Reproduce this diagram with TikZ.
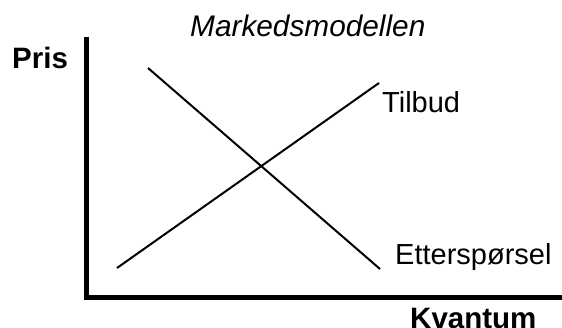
\documentclass[tikz,border=0pt]{standalone}
\usepackage{fontspec}
\setmainfont{Liberation Sans}
\begin{document}
\begin{tikzpicture}[x=1pt,y=-1pt,
  lbl/.style={anchor=base west,inner sep=0pt,font=\fontsize{29}{34}\selectfont},
  boldlbl/.style={lbl,font=\fontsize{29.5}{34}\selectfont\bfseries},
  axis/.style={line width=5pt,line join=miter},
  curve/.style={line width=2pt}]
\useasboundingbox (0,0) rectangle (562,328);
% axes
\coordinate (ytop) at (86.5,37);
\coordinate (origin) at (86.5,297.5);
\coordinate (xend) at (564,297.5);
\draw[axis] (ytop) -- (origin) -- (xend);
% curves
\coordinate (s1) at (117,268);
\coordinate (s2) at (379,83);
\coordinate (d1) at (148,68);
\coordinate (d2) at (380,269);
\draw[curve] (s1) -- (s2);
\draw[curve] (d1) -- (d2);
% labels
\node[lbl,font=\fontsize{29.8}{34}\selectfont\itshape] (title) at (190,37) {Markedsmodellen};
\node[boldlbl] (pris) at (12,69) {Pris};
\node[boldlbl] (kvantum) at (410,329) {Kvantum};
\node[lbl] (tilbud) at (382,113) {Tilbud};
\node[lbl] (ettersp) at (395,265) {Etterspørsel};
\end{tikzpicture}
\end{document}
